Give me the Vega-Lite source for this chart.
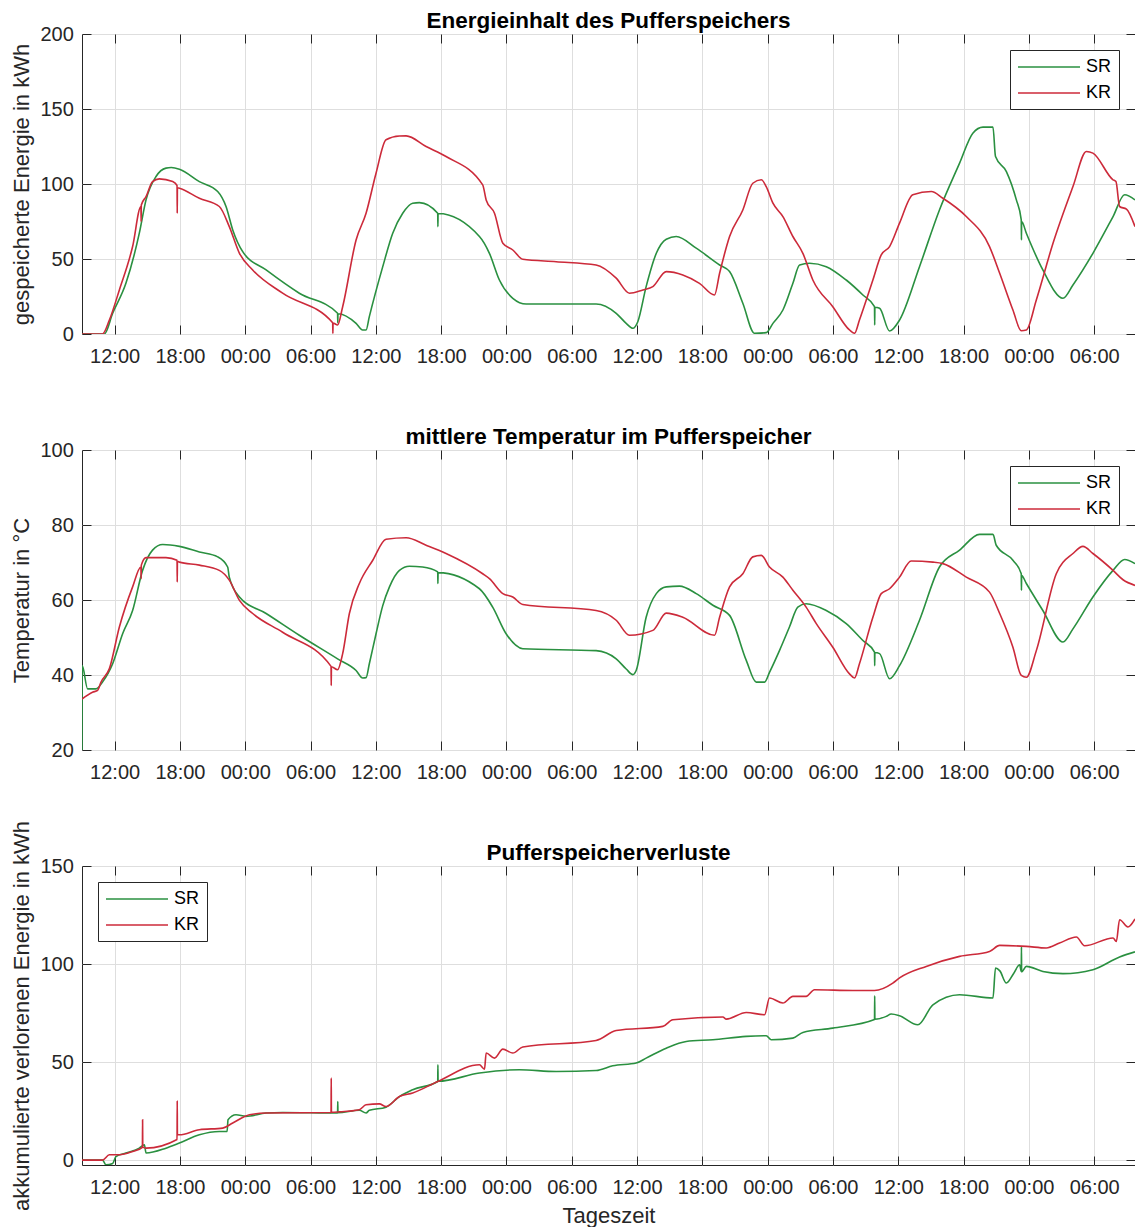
{
  "padding": {"top": 9, "left": 10, "right": 0, "bottom": 0},
  "bounds": "flush",
  "spacing": 116,
  "background": "#ffffff",
  "config": {
    "font": "Liberation Sans",
    "view": {"stroke": "#262626", "strokeWidth": 1},
    "line": {"interpolate": "monotone"},
    "axis": {
      "labelFont": "Liberation Sans",
      "labelFontSize": 20,
      "labelColor": "#262626",
      "titleFont": "Liberation Sans",
      "titleFontSize": 22,
      "titleFontWeight": "normal",
      "titleColor": "#262626",
      "tickColor": "#262626",
      "tickSize": -9,
      "tickWidth": 1,
      "domainColor": "#262626",
      "gridColor": "#dedede",
      "gridWidth": 1,
      "labelOverlap": false,
      "labelFlush": false
    },
    "axisX": {"labelPadding": 21.5, "titlePadding": 8},
    "axisY": {"labelPadding": 17.7, "titlePadding": 6},
    "title": {
      "font": "Liberation Sans",
      "fontSize": 22.5,
      "fontWeight": "bold",
      "color": "#000000",
      "anchor": "middle",
      "offset": -8,
      "baseline": "alphabetic"
    },
    "legend": {
      "labelFont": "Liberation Sans",
      "labelFontSize": 18,
      "labelColor": "#000000",
      "symbolType": "M-1,0H5.89",
      "symbolSize": 324,
      "symbolStrokeWidth": 1.6,
      "strokeColor": "#262626",
      "fillColor": "#ffffff",
      "padding": 7,
      "rowPadding": 7,
      "labelOffset": 49,
      "offset": 16,
      "cornerRadius": 0
    }
  },
  "resolve": {"scale": {"color": "independent"}, "legend": {"color": "independent"}},
  "vconcat": [
    {
      "width": 1053,
      "height": 300,
      "title": {"text": "Energieinhalt des Pufferspeichers"},
      "data": {"values": [
        {"t": "2019-07-01T09:00", "s": "SR", "v": 0},
        {"t": "2019-07-01T11:03", "s": "SR", "v": 0},
        {"t": "2019-07-01T11:49", "s": "SR", "v": 13.8},
        {"t": "2019-07-01T13:02", "s": "SR", "v": 33.8},
        {"t": "2019-07-01T14:16", "s": "SR", "v": 67.2},
        {"t": "2019-07-01T14:53", "s": "SR", "v": 89.4},
        {"t": "2019-07-01T15:48", "s": "SR", "v": 105},
        {"t": "2019-07-01T16:43", "s": "SR", "v": 110.6},
        {"t": "2019-07-01T17:12", "s": "SR", "v": 111},
        {"t": "2019-07-01T17:57", "s": "SR", "v": 109.9},
        {"t": "2019-07-01T19:47", "s": "SR", "v": 101.6},
        {"t": "2019-07-01T21:28", "s": "SR", "v": 95},
        {"t": "2019-07-01T22:14", "s": "SR", "v": 85},
        {"t": "2019-07-01T22:51", "s": "SR", "v": 69.4},
        {"t": "2019-07-01T23:46", "s": "SR", "v": 54.9},
        {"t": "2019-07-02T01:55", "s": "SR", "v": 42.7},
        {"t": "2019-07-02T04:58", "s": "SR", "v": 27.2},
        {"t": "2019-07-02T08:29", "s": "SR", "v": 13.8},
        {"t": "2019-07-02T08:30", "s": "SR", "v": 7.5},
        {"t": "2019-07-02T08:31", "s": "SR", "v": 13.5},
        {"t": "2019-07-02T10:11", "s": "SR", "v": 7.1},
        {"t": "2019-07-02T10:47", "s": "SR", "v": 2.7},
        {"t": "2019-07-02T11:06", "s": "SR", "v": 2.7},
        {"t": "2019-07-02T11:24", "s": "SR", "v": 11.6},
        {"t": "2019-07-02T12:38", "s": "SR", "v": 44.9},
        {"t": "2019-07-02T13:33", "s": "SR", "v": 67.2},
        {"t": "2019-07-02T14:28", "s": "SR", "v": 80.5},
        {"t": "2019-07-02T15:23", "s": "SR", "v": 87.2},
        {"t": "2019-07-02T16:00", "s": "SR", "v": 87.6},
        {"t": "2019-07-02T17:41", "s": "SR", "v": 80.5},
        {"t": "2019-07-02T17:42", "s": "SR", "v": 71.6},
        {"t": "2019-07-02T17:43", "s": "SR", "v": 80.3},
        {"t": "2019-07-02T21:31", "s": "SR", "v": 65},
        {"t": "2019-07-02T22:26", "s": "SR", "v": 53.8},
        {"t": "2019-07-02T23:21", "s": "SR", "v": 36},
        {"t": "2019-07-03T00:35", "s": "SR", "v": 23.8},
        {"t": "2019-07-03T01:49", "s": "SR", "v": 20},
        {"t": "2019-07-03T08:14", "s": "SR", "v": 20},
        {"t": "2019-07-03T10:05", "s": "SR", "v": 13.8},
        {"t": "2019-07-03T11:00", "s": "SR", "v": 7.1},
        {"t": "2019-07-03T11:37", "s": "SR", "v": 3.8},
        {"t": "2019-07-03T12:04", "s": "SR", "v": 8.2},
        {"t": "2019-07-03T12:50", "s": "SR", "v": 31.6},
        {"t": "2019-07-03T13:46", "s": "SR", "v": 53.8},
        {"t": "2019-07-03T14:41", "s": "SR", "v": 63.2},
        {"t": "2019-07-03T15:36", "s": "SR", "v": 65},
        {"t": "2019-07-03T17:26", "s": "SR", "v": 57.2},
        {"t": "2019-07-03T19:35", "s": "SR", "v": 46},
        {"t": "2019-07-03T20:30", "s": "SR", "v": 41.6},
        {"t": "2019-07-03T21:43", "s": "SR", "v": 20.5},
        {"t": "2019-07-03T22:47", "s": "SR", "v": 0.5},
        {"t": "2019-07-03T23:52", "s": "SR", "v": 0.9},
        {"t": "2019-07-04T00:29", "s": "SR", "v": 7.1},
        {"t": "2019-07-04T01:24", "s": "SR", "v": 16},
        {"t": "2019-07-04T02:19", "s": "SR", "v": 33.8},
        {"t": "2019-07-04T02:56", "s": "SR", "v": 46},
        {"t": "2019-07-04T03:51", "s": "SR", "v": 47.2},
        {"t": "2019-07-04T05:23", "s": "SR", "v": 44.9},
        {"t": "2019-07-04T07:13", "s": "SR", "v": 36},
        {"t": "2019-07-04T08:45", "s": "SR", "v": 26},
        {"t": "2019-07-04T09:49", "s": "SR", "v": 18.2},
        {"t": "2019-07-04T09:50", "s": "SR", "v": 6},
        {"t": "2019-07-04T09:51", "s": "SR", "v": 17.8},
        {"t": "2019-07-04T10:17", "s": "SR", "v": 17.1},
        {"t": "2019-07-04T11:12", "s": "SR", "v": 2},
        {"t": "2019-07-04T12:07", "s": "SR", "v": 9.3},
        {"t": "2019-07-04T13:57", "s": "SR", "v": 44.9},
        {"t": "2019-07-04T15:47", "s": "SR", "v": 82.7},
        {"t": "2019-07-04T17:38", "s": "SR", "v": 113.9},
        {"t": "2019-07-04T18:51", "s": "SR", "v": 133.9},
        {"t": "2019-07-04T19:47", "s": "SR", "v": 137.9},
        {"t": "2019-07-04T20:42", "s": "SR", "v": 137.9},
        {"t": "2019-07-04T20:56", "s": "SR", "v": 118.3},
        {"t": "2019-07-04T21:56", "s": "SR", "v": 108.3},
        {"t": "2019-07-04T22:51", "s": "SR", "v": 89.4},
        {"t": "2019-07-04T23:18", "s": "SR", "v": 76.1},
        {"t": "2019-07-04T23:19", "s": "SR", "v": 62.7},
        {"t": "2019-07-04T23:20", "s": "SR", "v": 75},
        {"t": "2019-07-04T23:46", "s": "SR", "v": 67.2},
        {"t": "2019-07-05T01:17", "s": "SR", "v": 42.7},
        {"t": "2019-07-05T03:08", "s": "SR", "v": 23.8},
        {"t": "2019-07-05T04:03", "s": "SR", "v": 32.7},
        {"t": "2019-07-05T05:53", "s": "SR", "v": 53.8},
        {"t": "2019-07-05T07:44", "s": "SR", "v": 78.3},
        {"t": "2019-07-05T08:48", "s": "SR", "v": 92.8},
        {"t": "2019-07-05T09:45", "s": "SR", "v": 89.4},
        {"t": "2019-07-01T09:00", "s": "KR", "v": 0},
        {"t": "2019-07-01T10:53", "s": "KR", "v": 0},
        {"t": "2019-07-01T11:31", "s": "KR", "v": 9.3},
        {"t": "2019-07-01T12:26", "s": "KR", "v": 29.4},
        {"t": "2019-07-01T13:39", "s": "KR", "v": 58.3},
        {"t": "2019-07-01T14:25", "s": "KR", "v": 85},
        {"t": "2019-07-01T14:26", "s": "KR", "v": 75},
        {"t": "2019-07-01T14:27", "s": "KR", "v": 86},
        {"t": "2019-07-01T14:53", "s": "KR", "v": 91.6},
        {"t": "2019-07-01T15:29", "s": "KR", "v": 101.6},
        {"t": "2019-07-01T16:06", "s": "KR", "v": 103.4},
        {"t": "2019-07-01T17:20", "s": "KR", "v": 101.6},
        {"t": "2019-07-01T17:44", "s": "KR", "v": 99},
        {"t": "2019-07-01T17:45", "s": "KR", "v": 80.5},
        {"t": "2019-07-01T17:46", "s": "KR", "v": 97.5},
        {"t": "2019-07-01T17:57", "s": "KR", "v": 97.2},
        {"t": "2019-07-01T19:47", "s": "KR", "v": 90.5},
        {"t": "2019-07-01T21:37", "s": "KR", "v": 85},
        {"t": "2019-07-01T22:32", "s": "KR", "v": 71.6},
        {"t": "2019-07-01T23:28", "s": "KR", "v": 53.8},
        {"t": "2019-07-02T00:41", "s": "KR", "v": 42.7},
        {"t": "2019-07-02T03:26", "s": "KR", "v": 27.2},
        {"t": "2019-07-02T08:02", "s": "KR", "v": 7.5},
        {"t": "2019-07-02T08:03", "s": "KR", "v": 0.5},
        {"t": "2019-07-02T08:04", "s": "KR", "v": 7.3},
        {"t": "2019-07-02T08:29", "s": "KR", "v": 6},
        {"t": "2019-07-02T08:57", "s": "KR", "v": 18.2},
        {"t": "2019-07-02T10:11", "s": "KR", "v": 62.7},
        {"t": "2019-07-02T11:06", "s": "KR", "v": 80.5},
        {"t": "2019-07-02T12:01", "s": "KR", "v": 107.2},
        {"t": "2019-07-02T12:56", "s": "KR", "v": 129.5},
        {"t": "2019-07-02T14:10", "s": "KR", "v": 132},
        {"t": "2019-07-02T14:47", "s": "KR", "v": 132.1},
        {"t": "2019-07-02T16:37", "s": "KR", "v": 125},
        {"t": "2019-07-02T18:27", "s": "KR", "v": 118.3},
        {"t": "2019-07-02T21:49", "s": "KR", "v": 99.4},
        {"t": "2019-07-02T22:08", "s": "KR", "v": 89.4},
        {"t": "2019-07-02T22:54", "s": "KR", "v": 80.5},
        {"t": "2019-07-02T23:40", "s": "KR", "v": 60.5},
        {"t": "2019-07-03T00:35", "s": "KR", "v": 56},
        {"t": "2019-07-03T01:30", "s": "KR", "v": 49.8},
        {"t": "2019-07-03T04:34", "s": "KR", "v": 48.2},
        {"t": "2019-07-03T08:14", "s": "KR", "v": 46},
        {"t": "2019-07-03T10:05", "s": "KR", "v": 37.2},
        {"t": "2019-07-03T11:18", "s": "KR", "v": 27.2},
        {"t": "2019-07-03T12:32", "s": "KR", "v": 29.4},
        {"t": "2019-07-03T13:27", "s": "KR", "v": 31.6},
        {"t": "2019-07-03T14:41", "s": "KR", "v": 41.6},
        {"t": "2019-07-03T16:12", "s": "KR", "v": 39.4},
        {"t": "2019-07-03T17:44", "s": "KR", "v": 33.8},
        {"t": "2019-07-03T19:07", "s": "KR", "v": 26},
        {"t": "2019-07-03T19:35", "s": "KR", "v": 40.5},
        {"t": "2019-07-03T20:30", "s": "KR", "v": 65},
        {"t": "2019-07-03T21:43", "s": "KR", "v": 82.7},
        {"t": "2019-07-03T22:38", "s": "KR", "v": 100.5},
        {"t": "2019-07-03T23:25", "s": "KR", "v": 102.8},
        {"t": "2019-07-03T23:52", "s": "KR", "v": 98.3},
        {"t": "2019-07-04T00:29", "s": "KR", "v": 87.2},
        {"t": "2019-07-04T01:24", "s": "KR", "v": 78.3},
        {"t": "2019-07-04T02:19", "s": "KR", "v": 65},
        {"t": "2019-07-04T03:14", "s": "KR", "v": 53.8},
        {"t": "2019-07-04T04:09", "s": "KR", "v": 36},
        {"t": "2019-07-04T05:59", "s": "KR", "v": 18.2},
        {"t": "2019-07-04T07:31", "s": "KR", "v": 2.7},
        {"t": "2019-07-04T07:59", "s": "KR", "v": 0.5},
        {"t": "2019-07-04T08:26", "s": "KR", "v": 9.3},
        {"t": "2019-07-04T09:40", "s": "KR", "v": 36},
        {"t": "2019-07-04T10:26", "s": "KR", "v": 52.7},
        {"t": "2019-07-04T11:12", "s": "KR", "v": 58.3},
        {"t": "2019-07-04T12:07", "s": "KR", "v": 73.9},
        {"t": "2019-07-04T13:20", "s": "KR", "v": 92.8},
        {"t": "2019-07-04T15:02", "s": "KR", "v": 95},
        {"t": "2019-07-04T16:06", "s": "KR", "v": 90.5},
        {"t": "2019-07-04T18:15", "s": "KR", "v": 78.3},
        {"t": "2019-07-04T20:23", "s": "KR", "v": 58.3},
        {"t": "2019-07-04T21:19", "s": "KR", "v": 40.5},
        {"t": "2019-07-04T22:32", "s": "KR", "v": 16},
        {"t": "2019-07-04T23:18", "s": "KR", "v": 2.2},
        {"t": "2019-07-04T23:46", "s": "KR", "v": 2.7},
        {"t": "2019-07-05T00:41", "s": "KR", "v": 22.7},
        {"t": "2019-07-05T02:13", "s": "KR", "v": 60.5},
        {"t": "2019-07-05T04:03", "s": "KR", "v": 98.3},
        {"t": "2019-07-05T05:17", "s": "KR", "v": 121.7},
        {"t": "2019-07-05T05:53", "s": "KR", "v": 120.6},
        {"t": "2019-07-05T07:44", "s": "KR", "v": 102.8},
        {"t": "2019-07-05T08:00", "s": "KR", "v": 101.6},
        {"t": "2019-07-05T08:20", "s": "KR", "v": 85},
        {"t": "2019-07-05T08:58", "s": "KR", "v": 83.2},
        {"t": "2019-07-05T09:45", "s": "KR", "v": 71.6}
      ]},
      "layer": [
        {
          "mark": {"type": "line", "strokeWidth": 1.6, "clip": true},
          "encoding": {
            "x": {"field": "t", "type": "temporal", "scale": {"nice": false},
              "axis": {"orient": "bottom", "title": null, "format": "%H:%M", "tickCount": 16, "grid": true, "domain": false}},
            "y": {"field": "v", "type": "quantitative",
              "scale": {"domain": [0, 200], "nice": false, "zero": false},
              "axis": {"orient": "left", "title": "gespeicherte Energie in kWh", "values": [0, 50, 100, 150, 200], "grid": true, "domain": false}},
            "color": {"field": "s", "type": "nominal",
              "scale": {"domain": ["SR", "KR"], "range": ["#2a9040", "#cc2a3a"]},
              "legend": {"orient": "top-right", "title": null}}
          }
        },
        {
          "mark": {"type": "line", "opacity": 0},
          "encoding": {
            "x": {"field": "t", "type": "temporal", "scale": {"nice": false},
              "axis": {"orient": "top", "title": null, "labels": false, "tickCount": 16, "grid": false, "domain": false}},
            "y": {"field": "v", "type": "quantitative",
              "scale": {"domain": [0, 200], "nice": false, "zero": false},
              "axis": {"orient": "right", "title": null, "labels": false, "values": [0, 50, 100, 150, 200], "grid": false, "domain": false}},
            "detail": {"field": "s"}
          }
        }
      ],
      "resolve": {"axis": {"x": "independent", "y": "independent"}}
    },
    {
      "width": 1053,
      "height": 300,
      "title": {"text": "mittlere Temperatur im Pufferspeicher"},
      "data": {"values": [
        {"t": "2019-07-01T09:00", "s": "SR", "v": 20},
        {"t": "2019-07-01T09:01", "s": "SR", "v": 42.5},
        {"t": "2019-07-01T09:31", "s": "SR", "v": 36.3},
        {"t": "2019-07-01T10:17", "s": "SR", "v": 36.3},
        {"t": "2019-07-01T10:53", "s": "SR", "v": 38.1},
        {"t": "2019-07-01T11:49", "s": "SR", "v": 43},
        {"t": "2019-07-01T12:44", "s": "SR", "v": 51},
        {"t": "2019-07-01T13:39", "s": "SR", "v": 57.2},
        {"t": "2019-07-01T14:34", "s": "SR", "v": 67.9},
        {"t": "2019-07-01T15:29", "s": "SR", "v": 73.3},
        {"t": "2019-07-01T16:25", "s": "SR", "v": 74.8},
        {"t": "2019-07-01T17:57", "s": "SR", "v": 74.3},
        {"t": "2019-07-01T19:47", "s": "SR", "v": 72.8},
        {"t": "2019-07-01T21:28", "s": "SR", "v": 71.5},
        {"t": "2019-07-01T22:23", "s": "SR", "v": 68.8},
        {"t": "2019-07-01T22:32", "s": "SR", "v": 66.1},
        {"t": "2019-07-01T23:28", "s": "SR", "v": 60.8},
        {"t": "2019-07-02T01:55", "s": "SR", "v": 56.4},
        {"t": "2019-07-02T04:58", "s": "SR", "v": 50.6},
        {"t": "2019-07-02T08:29", "s": "SR", "v": 44.3},
        {"t": "2019-07-02T10:11", "s": "SR", "v": 41.2},
        {"t": "2019-07-02T10:47", "s": "SR", "v": 39.2},
        {"t": "2019-07-02T11:06", "s": "SR", "v": 39.3},
        {"t": "2019-07-02T11:24", "s": "SR", "v": 43},
        {"t": "2019-07-02T12:01", "s": "SR", "v": 51},
        {"t": "2019-07-02T12:38", "s": "SR", "v": 58.5},
        {"t": "2019-07-02T13:15", "s": "SR", "v": 63.5},
        {"t": "2019-07-02T14:10", "s": "SR", "v": 67.9},
        {"t": "2019-07-02T15:05", "s": "SR", "v": 69},
        {"t": "2019-07-02T16:18", "s": "SR", "v": 68.8},
        {"t": "2019-07-02T17:41", "s": "SR", "v": 67.5},
        {"t": "2019-07-02T17:42", "s": "SR", "v": 64.4},
        {"t": "2019-07-02T17:43", "s": "SR", "v": 67.3},
        {"t": "2019-07-02T21:31", "s": "SR", "v": 63},
        {"t": "2019-07-02T22:44", "s": "SR", "v": 58.1},
        {"t": "2019-07-02T23:58", "s": "SR", "v": 51},
        {"t": "2019-07-03T01:30", "s": "SR", "v": 47},
        {"t": "2019-07-03T08:14", "s": "SR", "v": 46.5},
        {"t": "2019-07-03T10:05", "s": "SR", "v": 44.3},
        {"t": "2019-07-03T11:00", "s": "SR", "v": 41.6},
        {"t": "2019-07-03T11:37", "s": "SR", "v": 40.1},
        {"t": "2019-07-03T11:55", "s": "SR", "v": 41.2},
        {"t": "2019-07-03T12:50", "s": "SR", "v": 55.4},
        {"t": "2019-07-03T13:46", "s": "SR", "v": 61.7},
        {"t": "2019-07-03T14:41", "s": "SR", "v": 63.5},
        {"t": "2019-07-03T15:54", "s": "SR", "v": 63.7},
        {"t": "2019-07-03T17:26", "s": "SR", "v": 61.7},
        {"t": "2019-07-03T18:58", "s": "SR", "v": 58.6},
        {"t": "2019-07-03T20:30", "s": "SR", "v": 55.9},
        {"t": "2019-07-03T22:02", "s": "SR", "v": 43.9},
        {"t": "2019-07-03T22:57", "s": "SR", "v": 38.1},
        {"t": "2019-07-03T23:43", "s": "SR", "v": 38.1},
        {"t": "2019-07-04T00:10", "s": "SR", "v": 40.7},
        {"t": "2019-07-04T01:05", "s": "SR", "v": 46.5},
        {"t": "2019-07-04T02:00", "s": "SR", "v": 52.8},
        {"t": "2019-07-04T02:46", "s": "SR", "v": 58.1},
        {"t": "2019-07-04T03:32", "s": "SR", "v": 59},
        {"t": "2019-07-04T05:23", "s": "SR", "v": 57.2},
        {"t": "2019-07-04T07:13", "s": "SR", "v": 53.7},
        {"t": "2019-07-04T08:45", "s": "SR", "v": 49.2},
        {"t": "2019-07-04T09:49", "s": "SR", "v": 46.1},
        {"t": "2019-07-04T09:50", "s": "SR", "v": 42.5},
        {"t": "2019-07-04T09:51", "s": "SR", "v": 46},
        {"t": "2019-07-04T10:17", "s": "SR", "v": 45.7},
        {"t": "2019-07-04T11:12", "s": "SR", "v": 39},
        {"t": "2019-07-04T12:07", "s": "SR", "v": 42.5},
        {"t": "2019-07-04T13:57", "s": "SR", "v": 54.6},
        {"t": "2019-07-04T15:47", "s": "SR", "v": 68.8},
        {"t": "2019-07-04T17:38", "s": "SR", "v": 73.3},
        {"t": "2019-07-04T19:28", "s": "SR", "v": 77.5},
        {"t": "2019-07-04T20:42", "s": "SR", "v": 77.5},
        {"t": "2019-07-04T21:00", "s": "SR", "v": 74.6},
        {"t": "2019-07-04T22:32", "s": "SR", "v": 70.6},
        {"t": "2019-07-04T23:18", "s": "SR", "v": 67},
        {"t": "2019-07-04T23:19", "s": "SR", "v": 62.6},
        {"t": "2019-07-04T23:20", "s": "SR", "v": 66.5},
        {"t": "2019-07-04T23:46", "s": "SR", "v": 64.4},
        {"t": "2019-07-05T01:17", "s": "SR", "v": 57.2},
        {"t": "2019-07-05T03:08", "s": "SR", "v": 48.8},
        {"t": "2019-07-05T04:03", "s": "SR", "v": 52.3},
        {"t": "2019-07-05T05:53", "s": "SR", "v": 60.8},
        {"t": "2019-07-05T07:44", "s": "SR", "v": 67.9},
        {"t": "2019-07-05T08:48", "s": "SR", "v": 70.8},
        {"t": "2019-07-05T09:45", "s": "SR", "v": 69.7},
        {"t": "2019-07-01T09:00", "s": "KR", "v": 33.6},
        {"t": "2019-07-01T09:58", "s": "KR", "v": 35.4},
        {"t": "2019-07-01T10:26", "s": "KR", "v": 35.9},
        {"t": "2019-07-01T10:45", "s": "KR", "v": 38.1},
        {"t": "2019-07-01T11:31", "s": "KR", "v": 41.7},
        {"t": "2019-07-01T12:26", "s": "KR", "v": 52.8},
        {"t": "2019-07-01T13:39", "s": "KR", "v": 63.5},
        {"t": "2019-07-01T14:25", "s": "KR", "v": 68.8},
        {"t": "2019-07-01T14:26", "s": "KR", "v": 65.7},
        {"t": "2019-07-01T14:27", "s": "KR", "v": 69.3},
        {"t": "2019-07-01T14:53", "s": "KR", "v": 71.3},
        {"t": "2019-07-01T16:43", "s": "KR", "v": 71.3},
        {"t": "2019-07-01T17:44", "s": "KR", "v": 70.6},
        {"t": "2019-07-01T17:45", "s": "KR", "v": 64.8},
        {"t": "2019-07-01T17:46", "s": "KR", "v": 70.3},
        {"t": "2019-07-01T17:57", "s": "KR", "v": 70.1},
        {"t": "2019-07-01T19:47", "s": "KR", "v": 69.3},
        {"t": "2019-07-01T21:37", "s": "KR", "v": 67.9},
        {"t": "2019-07-01T22:32", "s": "KR", "v": 65.3},
        {"t": "2019-07-01T23:28", "s": "KR", "v": 59.9},
        {"t": "2019-07-02T00:41", "s": "KR", "v": 56.4},
        {"t": "2019-07-02T03:26", "s": "KR", "v": 51.4},
        {"t": "2019-07-02T07:53", "s": "KR", "v": 42.3},
        {"t": "2019-07-02T07:54", "s": "KR", "v": 37.2},
        {"t": "2019-07-02T07:55", "s": "KR", "v": 42.2},
        {"t": "2019-07-02T08:29", "s": "KR", "v": 41.4},
        {"t": "2019-07-02T08:57", "s": "KR", "v": 45.7},
        {"t": "2019-07-02T09:34", "s": "KR", "v": 56.4},
        {"t": "2019-07-02T10:29", "s": "KR", "v": 64.4},
        {"t": "2019-07-02T11:43", "s": "KR", "v": 70.6},
        {"t": "2019-07-02T12:56", "s": "KR", "v": 76.2},
        {"t": "2019-07-02T14:47", "s": "KR", "v": 76.6},
        {"t": "2019-07-02T16:37", "s": "KR", "v": 74.6},
        {"t": "2019-07-02T18:27", "s": "KR", "v": 72.4},
        {"t": "2019-07-02T21:49", "s": "KR", "v": 67},
        {"t": "2019-07-02T22:26", "s": "KR", "v": 65.7},
        {"t": "2019-07-02T23:40", "s": "KR", "v": 61.7},
        {"t": "2019-07-03T00:35", "s": "KR", "v": 60.8},
        {"t": "2019-07-03T01:30", "s": "KR", "v": 58.8},
        {"t": "2019-07-03T08:14", "s": "KR", "v": 57.2},
        {"t": "2019-07-03T10:05", "s": "KR", "v": 54.6},
        {"t": "2019-07-03T11:18", "s": "KR", "v": 50.6},
        {"t": "2019-07-03T13:27", "s": "KR", "v": 51.9},
        {"t": "2019-07-03T14:41", "s": "KR", "v": 56.5},
        {"t": "2019-07-03T16:12", "s": "KR", "v": 55.4},
        {"t": "2019-07-03T19:07", "s": "KR", "v": 50.6},
        {"t": "2019-07-03T19:35", "s": "KR", "v": 55.4},
        {"t": "2019-07-03T20:30", "s": "KR", "v": 63.5},
        {"t": "2019-07-03T21:43", "s": "KR", "v": 67},
        {"t": "2019-07-03T22:38", "s": "KR", "v": 71.5},
        {"t": "2019-07-03T23:25", "s": "KR", "v": 71.9},
        {"t": "2019-07-04T00:10", "s": "KR", "v": 68.8},
        {"t": "2019-07-04T01:24", "s": "KR", "v": 66.1},
        {"t": "2019-07-04T02:19", "s": "KR", "v": 62.6},
        {"t": "2019-07-04T03:32", "s": "KR", "v": 58.1},
        {"t": "2019-07-04T04:28", "s": "KR", "v": 53.7},
        {"t": "2019-07-04T05:59", "s": "KR", "v": 47.4},
        {"t": "2019-07-04T07:31", "s": "KR", "v": 40.3},
        {"t": "2019-07-04T07:59", "s": "KR", "v": 39.2},
        {"t": "2019-07-04T08:26", "s": "KR", "v": 43},
        {"t": "2019-07-04T09:40", "s": "KR", "v": 55.4},
        {"t": "2019-07-04T10:26", "s": "KR", "v": 61.7},
        {"t": "2019-07-04T11:12", "s": "KR", "v": 63},
        {"t": "2019-07-04T12:07", "s": "KR", "v": 66.1},
        {"t": "2019-07-04T13:11", "s": "KR", "v": 70.4},
        {"t": "2019-07-04T15:11", "s": "KR", "v": 70.1},
        {"t": "2019-07-04T16:06", "s": "KR", "v": 69.7},
        {"t": "2019-07-04T18:15", "s": "KR", "v": 66.1},
        {"t": "2019-07-04T20:23", "s": "KR", "v": 62.1},
        {"t": "2019-07-04T21:19", "s": "KR", "v": 56.4},
        {"t": "2019-07-04T22:32", "s": "KR", "v": 47.4},
        {"t": "2019-07-04T23:18", "s": "KR", "v": 39.9},
        {"t": "2019-07-04T23:46", "s": "KR", "v": 39.4},
        {"t": "2019-07-05T00:41", "s": "KR", "v": 46.5},
        {"t": "2019-07-05T02:31", "s": "KR", "v": 67},
        {"t": "2019-07-05T04:03", "s": "KR", "v": 72.4},
        {"t": "2019-07-05T04:58", "s": "KR", "v": 74.3},
        {"t": "2019-07-05T05:53", "s": "KR", "v": 72.4},
        {"t": "2019-07-05T07:44", "s": "KR", "v": 67.9},
        {"t": "2019-07-05T08:39", "s": "KR", "v": 65.4},
        {"t": "2019-07-05T09:45", "s": "KR", "v": 63.9}
      ]},
      "layer": [
        {
          "mark": {"type": "line", "strokeWidth": 1.6, "clip": true},
          "encoding": {
            "x": {"field": "t", "type": "temporal", "scale": {"nice": false},
              "axis": {"orient": "bottom", "title": null, "format": "%H:%M", "tickCount": 16, "grid": true, "domain": false}},
            "y": {"field": "v", "type": "quantitative",
              "scale": {"domain": [20, 100], "nice": false, "zero": false},
              "axis": {"orient": "left", "title": "Temperatur in °C", "values": [20, 40, 60, 80, 100], "grid": true, "domain": false}},
            "color": {"field": "s", "type": "nominal",
              "scale": {"domain": ["SR", "KR"], "range": ["#2a9040", "#cc2a3a"]},
              "legend": {"orient": "top-right", "title": null}}
          }
        },
        {
          "mark": {"type": "line", "opacity": 0},
          "encoding": {
            "x": {"field": "t", "type": "temporal", "scale": {"nice": false},
              "axis": {"orient": "top", "title": null, "labels": false, "tickCount": 16, "grid": false, "domain": false}},
            "y": {"field": "v", "type": "quantitative",
              "scale": {"domain": [20, 100], "nice": false, "zero": false},
              "axis": {"orient": "right", "title": null, "labels": false, "values": [20, 40, 60, 80, 100], "grid": false, "domain": false}},
            "detail": {"field": "s"}
          }
        }
      ],
      "resolve": {"axis": {"x": "independent", "y": "independent"}}
    },
    {
      "width": 1053,
      "height": 299,
      "title": {"text": "Pufferspeicherverluste", "offset": -44},
      "data": {"values": [
        {"t": "2019-07-01T09:00", "s": "SR", "v": 0},
        {"t": "2019-07-01T10:53", "s": "SR", "v": 0},
        {"t": "2019-07-01T11:12", "s": "SR", "v": -2.4},
        {"t": "2019-07-01T11:49", "s": "SR", "v": -1.7},
        {"t": "2019-07-01T12:07", "s": "SR", "v": 1.8},
        {"t": "2019-07-01T13:02", "s": "SR", "v": 3.6},
        {"t": "2019-07-01T14:16", "s": "SR", "v": 6.1},
        {"t": "2019-07-01T14:44", "s": "SR", "v": 7.8},
        {"t": "2019-07-01T14:53", "s": "SR", "v": 3.6},
        {"t": "2019-07-01T16:43", "s": "SR", "v": 6.1},
        {"t": "2019-07-01T17:57", "s": "SR", "v": 8.7},
        {"t": "2019-07-01T19:47", "s": "SR", "v": 12.9},
        {"t": "2019-07-01T21:37", "s": "SR", "v": 14.6},
        {"t": "2019-07-01T22:20", "s": "SR", "v": 14.6},
        {"t": "2019-07-01T22:25", "s": "SR", "v": 20.6},
        {"t": "2019-07-01T23:09", "s": "SR", "v": 23.1},
        {"t": "2019-07-02T00:04", "s": "SR", "v": 22.3},
        {"t": "2019-07-02T01:55", "s": "SR", "v": 24},
        {"t": "2019-07-02T03:26", "s": "SR", "v": 24.3},
        {"t": "2019-07-02T08:29", "s": "SR", "v": 24},
        {"t": "2019-07-02T08:30", "s": "SR", "v": 29.9},
        {"t": "2019-07-02T08:31", "s": "SR", "v": 24.2},
        {"t": "2019-07-02T10:29", "s": "SR", "v": 25.4},
        {"t": "2019-07-02T11:06", "s": "SR", "v": 24},
        {"t": "2019-07-02T11:24", "s": "SR", "v": 25.4},
        {"t": "2019-07-02T12:56", "s": "SR", "v": 27},
        {"t": "2019-07-02T14:10", "s": "SR", "v": 32.4},
        {"t": "2019-07-02T15:23", "s": "SR", "v": 35.9},
        {"t": "2019-07-02T17:41", "s": "SR", "v": 40.1},
        {"t": "2019-07-02T17:42", "s": "SR", "v": 48.6},
        {"t": "2019-07-02T17:43", "s": "SR", "v": 40.2},
        {"t": "2019-07-02T21:31", "s": "SR", "v": 44.4},
        {"t": "2019-07-03T01:11", "s": "SR", "v": 46.1},
        {"t": "2019-07-03T04:34", "s": "SR", "v": 45.2},
        {"t": "2019-07-03T08:14", "s": "SR", "v": 45.7},
        {"t": "2019-07-03T09:46", "s": "SR", "v": 48.1},
        {"t": "2019-07-03T11:55", "s": "SR", "v": 49.5},
        {"t": "2019-07-03T12:50", "s": "SR", "v": 52},
        {"t": "2019-07-03T14:41", "s": "SR", "v": 57.1},
        {"t": "2019-07-03T16:31", "s": "SR", "v": 60.5},
        {"t": "2019-07-03T18:58", "s": "SR", "v": 61.4},
        {"t": "2019-07-03T22:02", "s": "SR", "v": 63.1},
        {"t": "2019-07-03T23:52", "s": "SR", "v": 63.4},
        {"t": "2019-07-04T00:20", "s": "SR", "v": 61.4},
        {"t": "2019-07-04T02:19", "s": "SR", "v": 62.2},
        {"t": "2019-07-04T03:14", "s": "SR", "v": 65.1},
        {"t": "2019-07-04T05:59", "s": "SR", "v": 67.3},
        {"t": "2019-07-04T09:49", "s": "SR", "v": 71.7},
        {"t": "2019-07-04T09:50", "s": "SR", "v": 83.8},
        {"t": "2019-07-04T09:51", "s": "SR", "v": 71.8},
        {"t": "2019-07-04T10:54", "s": "SR", "v": 73.3},
        {"t": "2019-07-04T11:21", "s": "SR", "v": 74.5},
        {"t": "2019-07-04T12:07", "s": "SR", "v": 73.6},
        {"t": "2019-07-04T13:48", "s": "SR", "v": 69},
        {"t": "2019-07-04T15:11", "s": "SR", "v": 79.2},
        {"t": "2019-07-04T17:38", "s": "SR", "v": 84.3},
        {"t": "2019-07-04T20:42", "s": "SR", "v": 82.7},
        {"t": "2019-07-04T20:56", "s": "SR", "v": 98},
        {"t": "2019-07-04T21:20", "s": "SR", "v": 96.5},
        {"t": "2019-07-04T21:56", "s": "SR", "v": 90.3},
        {"t": "2019-07-04T22:36", "s": "SR", "v": 95.2},
        {"t": "2019-07-04T23:09", "s": "SR", "v": 99.6},
        {"t": "2019-07-04T23:18", "s": "SR", "v": 96.2},
        {"t": "2019-07-04T23:19", "s": "SR", "v": 108.7},
        {"t": "2019-07-04T23:20", "s": "SR", "v": 96},
        {"t": "2019-07-04T23:46", "s": "SR", "v": 98.8},
        {"t": "2019-07-05T01:17", "s": "SR", "v": 96.2},
        {"t": "2019-07-05T03:08", "s": "SR", "v": 95.1},
        {"t": "2019-07-05T05:53", "s": "SR", "v": 97.1},
        {"t": "2019-07-05T08:20", "s": "SR", "v": 103.6},
        {"t": "2019-07-05T09:45", "s": "SR", "v": 106.2},
        {"t": "2019-07-01T09:00", "s": "KR", "v": 0},
        {"t": "2019-07-01T10:53", "s": "KR", "v": 0},
        {"t": "2019-07-01T11:31", "s": "KR", "v": 2.7},
        {"t": "2019-07-01T12:26", "s": "KR", "v": 2.7},
        {"t": "2019-07-01T13:39", "s": "KR", "v": 4.4},
        {"t": "2019-07-01T14:33", "s": "KR", "v": 6.5},
        {"t": "2019-07-01T14:34", "s": "KR", "v": 20.6},
        {"t": "2019-07-01T14:35", "s": "KR", "v": 6.6},
        {"t": "2019-07-01T14:53", "s": "KR", "v": 6.1},
        {"t": "2019-07-01T17:44", "s": "KR", "v": 10.5},
        {"t": "2019-07-01T17:45", "s": "KR", "v": 30.3},
        {"t": "2019-07-01T17:46", "s": "KR", "v": 12.9},
        {"t": "2019-07-01T17:57", "s": "KR", "v": 12.9},
        {"t": "2019-07-01T19:47", "s": "KR", "v": 15.5},
        {"t": "2019-07-01T21:56", "s": "KR", "v": 16.3},
        {"t": "2019-07-01T22:51", "s": "KR", "v": 18.9},
        {"t": "2019-07-02T00:23", "s": "KR", "v": 23.1},
        {"t": "2019-07-02T01:55", "s": "KR", "v": 24},
        {"t": "2019-07-02T07:53", "s": "KR", "v": 24.3},
        {"t": "2019-07-02T07:54", "s": "KR", "v": 41.8},
        {"t": "2019-07-02T07:55", "s": "KR", "v": 24.4},
        {"t": "2019-07-02T08:38", "s": "KR", "v": 24.6},
        {"t": "2019-07-02T10:29", "s": "KR", "v": 25.7},
        {"t": "2019-07-02T11:06", "s": "KR", "v": 28.2},
        {"t": "2019-07-02T12:19", "s": "KR", "v": 28.7},
        {"t": "2019-07-02T12:56", "s": "KR", "v": 27.3},
        {"t": "2019-07-02T14:10", "s": "KR", "v": 32.4},
        {"t": "2019-07-02T15:23", "s": "KR", "v": 34.2},
        {"t": "2019-07-02T17:41", "s": "KR", "v": 40.1},
        {"t": "2019-07-02T21:31", "s": "KR", "v": 48.6},
        {"t": "2019-07-02T21:59", "s": "KR", "v": 46.4},
        {"t": "2019-07-02T22:08", "s": "KR", "v": 54.6},
        {"t": "2019-07-02T22:54", "s": "KR", "v": 52},
        {"t": "2019-07-02T23:40", "s": "KR", "v": 56.6},
        {"t": "2019-07-03T00:35", "s": "KR", "v": 54.6},
        {"t": "2019-07-03T01:30", "s": "KR", "v": 57.7},
        {"t": "2019-07-03T08:14", "s": "KR", "v": 61},
        {"t": "2019-07-03T10:05", "s": "KR", "v": 66.1},
        {"t": "2019-07-03T14:22", "s": "KR", "v": 68.2},
        {"t": "2019-07-03T15:17", "s": "KR", "v": 71.6},
        {"t": "2019-07-03T19:53", "s": "KR", "v": 73},
        {"t": "2019-07-03T20:12", "s": "KR", "v": 71.9},
        {"t": "2019-07-03T22:02", "s": "KR", "v": 75.3},
        {"t": "2019-07-03T23:43", "s": "KR", "v": 74.1},
        {"t": "2019-07-04T00:10", "s": "KR", "v": 82.7},
        {"t": "2019-07-04T01:24", "s": "KR", "v": 80.1},
        {"t": "2019-07-04T02:19", "s": "KR", "v": 83.5},
        {"t": "2019-07-04T03:32", "s": "KR", "v": 83.5},
        {"t": "2019-07-04T04:18", "s": "KR", "v": 86.9},
        {"t": "2019-07-04T07:50", "s": "KR", "v": 86.5},
        {"t": "2019-07-04T09:49", "s": "KR", "v": 86.5},
        {"t": "2019-07-04T11:30", "s": "KR", "v": 90.3},
        {"t": "2019-07-04T12:07", "s": "KR", "v": 92.9},
        {"t": "2019-07-04T14:34", "s": "KR", "v": 98.8},
        {"t": "2019-07-04T17:38", "s": "KR", "v": 103.9},
        {"t": "2019-07-04T20:23", "s": "KR", "v": 106.4},
        {"t": "2019-07-04T21:19", "s": "KR", "v": 109.5},
        {"t": "2019-07-04T23:46", "s": "KR", "v": 109},
        {"t": "2019-07-05T01:36", "s": "KR", "v": 108.2},
        {"t": "2019-07-05T02:49", "s": "KR", "v": 110.7},
        {"t": "2019-07-05T04:22", "s": "KR", "v": 113.8},
        {"t": "2019-07-05T05:07", "s": "KR", "v": 109.3},
        {"t": "2019-07-05T07:44", "s": "KR", "v": 113.3},
        {"t": "2019-07-05T08:02", "s": "KR", "v": 111.5},
        {"t": "2019-07-05T08:20", "s": "KR", "v": 122.6},
        {"t": "2019-07-05T09:06", "s": "KR", "v": 118.9},
        {"t": "2019-07-05T09:45", "s": "KR", "v": 123}
      ]},
      "layer": [
        {
          "mark": {"type": "line", "strokeWidth": 1.6, "clip": true},
          "encoding": {
            "x": {"field": "t", "type": "temporal", "scale": {"nice": false},
              "axis": {"orient": "bottom", "title": "Tageszeit", "format": "%H:%M", "tickCount": 16, "grid": true, "domain": false}},
            "y": {"field": "v", "type": "quantitative",
              "scale": {"domain": [-2.5, 150], "nice": false, "zero": false},
              "axis": {"orient": "left", "title": "akkumulierte verlorenen Energie in kWh", "values": [0, 50, 100, 150], "grid": true, "domain": false}},
            "color": {"field": "s", "type": "nominal",
              "scale": {"domain": ["SR", "KR"], "range": ["#2a9040", "#cc2a3a"]},
              "legend": {"orient": "top-left", "title": null}}
          }
        },
        {
          "mark": {"type": "line", "opacity": 0},
          "encoding": {
            "x": {"field": "t", "type": "temporal", "scale": {"nice": false},
              "axis": {"orient": "top", "title": null, "labels": false, "tickCount": 16, "grid": false, "domain": false}},
            "y": {"field": "v", "type": "quantitative",
              "scale": {"domain": [-2.5, 150], "nice": false, "zero": false},
              "axis": {"orient": "right", "title": null, "labels": false, "values": [0, 50, 100, 150], "grid": false, "domain": false}},
            "detail": {"field": "s"}
          }
        }
      ],
      "resolve": {"axis": {"x": "independent", "y": "independent"}}
    }
  ]
}
